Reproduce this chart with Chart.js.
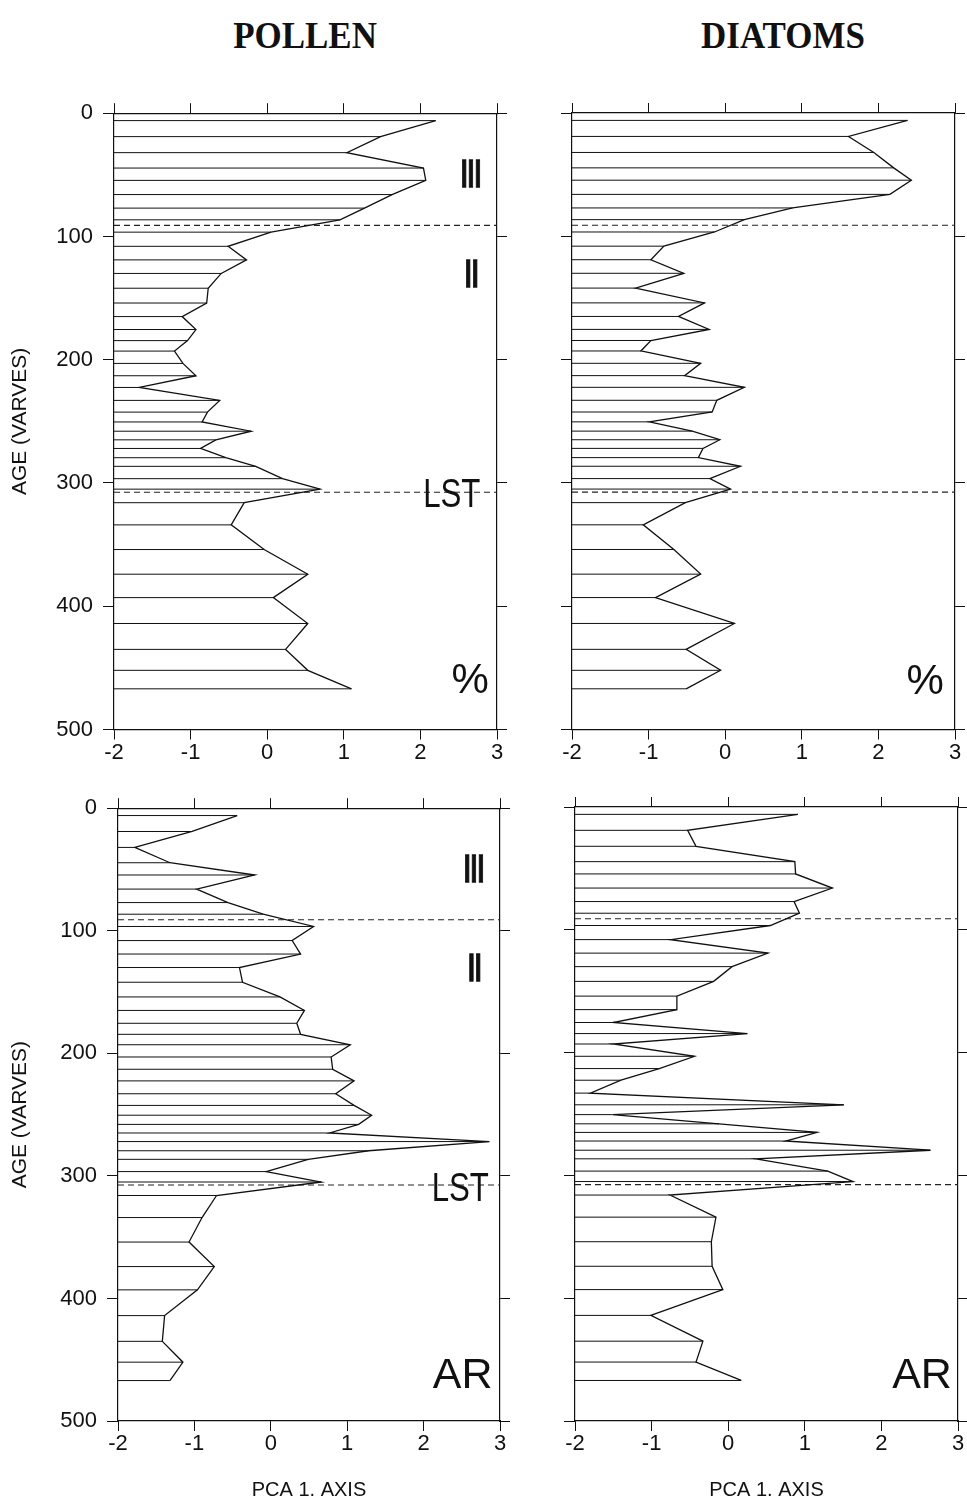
<!DOCTYPE html>
<html>
<head>
<meta charset="utf-8">
<script src="https://cdn.jsdelivr.net/npm/chart.js@4/dist/chart.umd.min.js"></script>
<style>
  body { margin: 0; background: #fff; }
  #page { position: relative; width: 967px; height: 1504px; overflow: hidden; }
  canvas { position: absolute; }
  .head {
    position: absolute; top: 16px; line-height: 1;
    font-family: "Liberation Serif", "Times New Roman", serif;
    font-weight: bold; font-size: 38px; color: #111;
    transform: translateX(-50%) scaleX(0.92); white-space: nowrap;
  }
</style>
</head>
<body>
<div id="page">
  <div class="head" style="left:305px">POLLEN</div>
  <div class="head" style="left:783px">DIATOMS</div>
  <canvas id="pollenPct" width="520" height="680" style="left:0;top:90px"></canvas>
  <canvas id="diatomPct" width="427" height="680" style="left:540px;top:90px"></canvas>
  <canvas id="pollenAR" width="520" height="719" style="left:0;top:785px"></canvas>
  <canvas id="diatomAR" width="427" height="719" style="left:540px;top:785px"></canvas>
</div>
<script>
// sample ages (varves) shared by all four profiles
const ages = [6, 19, 32, 44.5, 54.5, 66, 77, 86.5, 96.5, 108,
              119, 130, 142, 154, 165, 175.5, 184.5, 193, 203, 213,
              222.5, 233, 242.5, 250.5, 258, 265, 272, 279.5, 286.5, 296.5,
              305, 316, 334, 354, 374, 393, 414, 435, 452, 467];

// PCA axis 1 scores
const pollenPct = [2.2, 1.48, 1.04, 2.04, 2.07, 1.63, 1.27, 0.95, 0.05, -0.51,
                   -0.27, -0.6, -0.77, -0.79, -1.11, -0.93, -1.04, -1.21, -1.1, -0.93,
                   -1.67, -0.62, -0.78, -0.85, -0.21, -0.67, -0.87, -0.54, -0.15, 0.2,
                   0.69, -0.3, -0.47, -0.04, 0.53, 0.08, 0.53, 0.24, 0.53, 1.1];
const diatomPct = [2.38, 1.61, 1.94, 2.2, 2.43, 2.15, 0.88, 0.25, -0.14, -0.8,
                   -0.97, -0.54, -1.17, -0.27, -0.61, -0.21, -0.97, -1.1, -0.32, -0.53,
                   0.25, -0.11, -0.17, -0.99, -0.43, -0.07, -0.29, -0.35, 0.2, -0.2,
                   0.07, -0.52, -1.07, -0.67, -0.32, -0.91, 0.12, -0.51, -0.06, -0.51];
const pollenAR = [-0.44, -1.03, -1.78, -1.32, -0.21, -0.97, -0.56, -0.1, 0.56, 0.28,
                  0.39, -0.41, -0.37, 0.12, 0.44, 0.34, 0.39, 1.04, 0.79, 0.81,
                  1.09, 0.85, 1.09, 1.32, 1.15, 0.77, 2.86, 1.28, 0.49, -0.06,
                  0.66, -0.71, -0.9, -1.07, -0.74, -0.96, -1.39, -1.42, -1.15, -1.32];
const diatomAR = [0.91, -0.53, -0.42, 0.87, 0.88, 1.36, 0.86, 0.93, 0.55, -0.75,
                  0.52, 0.05, -0.19, -0.67, -0.67, -1.5, 0.25, -1.5, -0.44, -0.9,
                  -1.4, -1.8, 1.51, -1.51, -0.12, 1.16, 0.75, 2.64, 0.36, 1.3,
                  1.63, -0.76, -0.16, -0.22, -0.21, -0.07, -1.01, -0.33, -0.42, 0.17];

// zone boundaries (III/II and the LST layer)
const zoneLines = [91, 307.5];

const FONT = '"Liberation Sans", Arial, sans-serif';

// in-panel labels, placed in data units
const textPlugin = {
    id: "panelText",
    afterDatasetsDraw(chart, args, opts) {
        const {ctx, scales: {x, y}} = chart;
        (opts.marks || []).forEach(m => {
            ctx.save();
            ctx.translate(x.getPixelForValue(m.x), y.getPixelForValue(m.y));
            ctx.scale(m.sx || 1, 1);
            ctx.font = (m.bold ? "bold " : "") + m.size + "px " + (m.family || FONT);
            ctx.fillStyle = "#111";
            ctx.textAlign = "center";
            ctx.textBaseline = "alphabetic";
            ctx.fillText(m.text, 0, m.size * 0.36);
            if (m.stroke) {
                ctx.strokeStyle = "#111";
                ctx.lineWidth = m.stroke;
                ctx.strokeText(m.text, 0, m.size * 0.36);
            }
            ctx.restore();
        });
    }
};

// roman zone numerals drawn as heavy narrow bars
const ROMAN = '"DejaVu Sans", "Liberation Sans", sans-serif';
const zoneMarks = [
    {text: "III", x: 2.66, y: 49, size: 37, bold: true, sx: 0.5, family: ROMAN, stroke: 1.5},
    {text: "II", x: 2.67, y: 130, size: 37, bold: true, sx: 0.5, family: ROMAN, stroke: 1.5}
];

const panels = [
    {id: "pollenPct", values: pollenPct, box: {left: 114, right: 23, top: 23, bottom: 40.5},
     yLabels: true, xTitle: false,
     marks: zoneMarks.concat([{text: "LST", x: 2.41, y: 307.5, size: 40, sx: 0.78},
                              {text: "%", x: 2.65, y: 458, size: 42}])},
    {id: "diatomPct", values: diatomPct, box: {left: 32, right: 12, top: 23, bottom: 40.5},
     yLabels: false, xTitle: false,
     marks: [{text: "%", x: 2.61, y: 459, size: 42}]},
    {id: "pollenAR", values: pollenAR, box: {left: 118, right: 20, top: 22, bottom: 83},
     yLabels: true, xTitle: true,
     marks: zoneMarks.concat([{text: "LST", x: 2.48, y: 309, size: 40, sx: 0.78},
                              {text: "AR", x: 2.51, y: 460.5, size: 43}])},
    {id: "diatomAR", values: diatomAR, box: {left: 35, right: 9, top: 22, bottom: 83},
     yLabels: false, xTitle: true,
     marks: [{text: "AR", x: 2.53, y: 460.7, size: 43}]}
];

function buildChart(p) {
    // horizontal stems from the left axis out to each score
    const stems = [];
    ages.forEach((a, i) => {
        stems.push({x: -2, y: a}, {x: p.values[i], y: a}, {x: null, y: null});
    });
    const profile = ages.map((a, i) => ({x: p.values[i], y: a}));
    const zones = [];
    zoneLines.forEach(b => zones.push({x: -2, y: b}, {x: 3, y: b}, {x: null, y: null}));

    const grid = () => ({drawOnChartArea: false, drawTicks: true, tickLength: 10, color: "#111", lineWidth: 1});
    const border = () => ({display: true, color: "#111", width: 1.2});
    const fix = (prop, v) => scale => { scale[prop] = v; };

    return new Chart(document.getElementById(p.id), {
        type: "scatter",
        data: {
            datasets: [
                {data: stems, showLine: true, borderColor: "#111", borderWidth: 1, pointRadius: 0, spanGaps: false},
                {data: profile, showLine: true, borderColor: "#111", borderWidth: 1.3, pointRadius: 0},
                {data: zones, showLine: true, borderColor: "#222", borderWidth: 1.1, borderDash: [6, 4], pointRadius: 0, spanGaps: false}
            ]
        },
        options: {
            responsive: false,
            animation: false,
            events: [],
            layout: {padding: 0},
            plugins: {
                legend: {display: false},
                tooltip: {enabled: false},
                panelText: {marks: p.marks}
            },
            scales: {
                x: {
                    type: "linear", position: "bottom", min: -2, max: 3,
                    ticks: {stepSize: 1, font: {family: FONT, size: 22}, color: "#111", padding: 0},
                    grid: grid(), border: border(),
                    title: {display: p.xTitle, text: "PCA 1. AXIS", color: "#111",
                            font: {family: FONT, size: 20}, padding: {top: 0, bottom: 2}},
                    afterFit: fix("height", p.box.bottom)
                },
                x2: {
                    type: "linear", position: "top", min: -2, max: 3,
                    ticks: {stepSize: 1, display: false},
                    grid: grid(), border: border(),
                    afterFit: fix("height", p.box.top)
                },
                y: {
                    type: "linear", position: "left", reverse: true, min: 0, max: 500,
                    ticks: {stepSize: 100, display: p.yLabels, font: {family: FONT, size: 22}, color: "#111", padding: 10},
                    grid: Object.assign(grid(), {tickLength: 11}), border: border(),
                    title: {display: p.yLabels, text: "AGE (VARVES)", color: "#111",
                            font: {family: FONT, size: 21}, padding: {top: 8, bottom: 0}},
                    afterFit: fix("width", p.box.left)
                },
                y2: {
                    type: "linear", position: "right", reverse: true, min: 0, max: 500,
                    ticks: {stepSize: 100, display: false},
                    grid: grid(), border: border(),
                    afterFit: fix("width", p.box.right)
                }
            }
        },
        plugins: [textPlugin]
    });
}

panels.forEach(buildChart);
</script>
</body>
</html>
